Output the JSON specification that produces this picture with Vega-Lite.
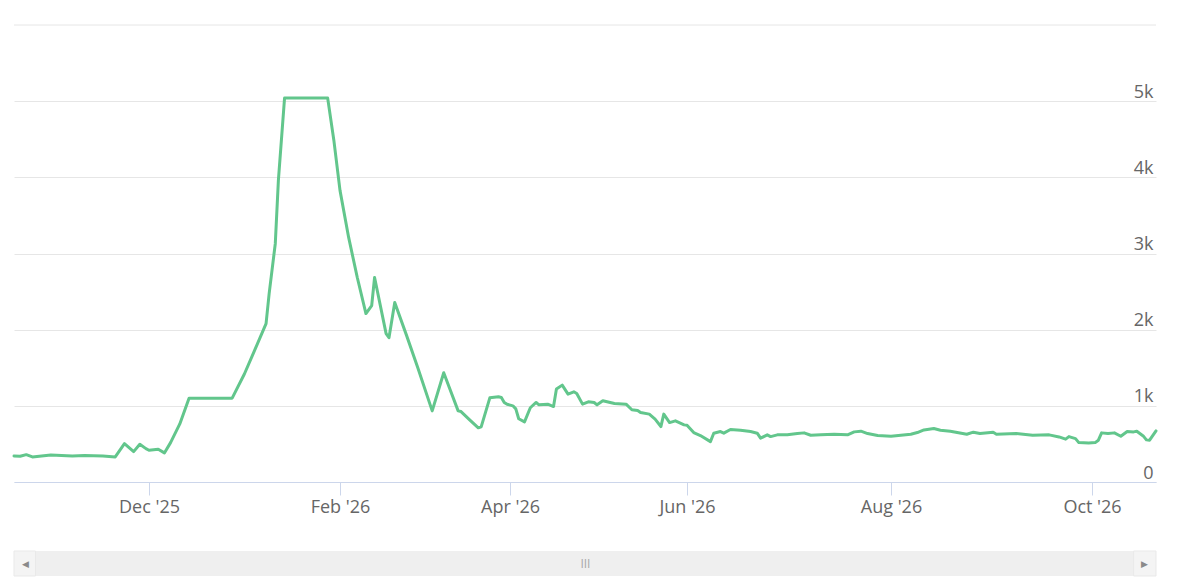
{
  "$schema": "https://vega.github.io/schema/vega-lite/v6.json",
  "background": "white",
  "padding": {"left": 12, "top": 24, "right": 37, "bottom": 12},
  "config": {"view": {"stroke": null}, "font": "Open Sans"},
  "spacing": 34,
  "datasets": {
    "series": [
      {"date": "2025-10-18", "value": 342},
      {"date": "2025-10-20", "value": 338},
      {"date": "2025-10-22", "value": 359},
      {"date": "2025-10-24", "value": 329},
      {"date": "2025-10-30", "value": 355},
      {"date": "2025-11-06", "value": 342},
      {"date": "2025-11-10", "value": 348},
      {"date": "2025-11-16", "value": 342},
      {"date": "2025-11-20", "value": 329},
      {"date": "2025-11-23", "value": 504},
      {"date": "2025-11-26", "value": 399},
      {"date": "2025-11-28", "value": 496},
      {"date": "2025-11-30", "value": 438},
      {"date": "2025-12-01", "value": 417},
      {"date": "2025-12-04", "value": 430},
      {"date": "2025-12-06", "value": 382},
      {"date": "2025-12-08", "value": 517},
      {"date": "2025-12-11", "value": 763},
      {"date": "2025-12-14", "value": 1101},
      {"date": "2025-12-28", "value": 1101},
      {"date": "2026-01-01", "value": 1421},
      {"date": "2026-01-04", "value": 1702},
      {"date": "2026-01-08", "value": 2079},
      {"date": "2026-01-09", "value": 2474},
      {"date": "2026-01-11", "value": 3132},
      {"date": "2026-01-12", "value": 3961},
      {"date": "2026-01-14", "value": 5040},
      {"date": "2026-01-28", "value": 5040},
      {"date": "2026-01-30", "value": 4488},
      {"date": "2026-02-01", "value": 3829},
      {"date": "2026-02-04", "value": 3211},
      {"date": "2026-02-07", "value": 2685},
      {"date": "2026-02-10", "value": 2211},
      {"date": "2026-02-12", "value": 2316},
      {"date": "2026-02-13", "value": 2685},
      {"date": "2026-02-17", "value": 1948},
      {"date": "2026-02-18", "value": 1895},
      {"date": "2026-02-20", "value": 2356},
      {"date": "2026-02-24", "value": 1935},
      {"date": "2026-02-28", "value": 1500},
      {"date": "2026-03-05", "value": 934},
      {"date": "2026-03-09", "value": 1434},
      {"date": "2026-03-14", "value": 934},
      {"date": "2026-03-15", "value": 925},
      {"date": "2026-03-18", "value": 816},
      {"date": "2026-03-21", "value": 711},
      {"date": "2026-03-22", "value": 724},
      {"date": "2026-03-25", "value": 1105},
      {"date": "2026-03-28", "value": 1119},
      {"date": "2026-03-29", "value": 1110},
      {"date": "2026-03-30", "value": 1045},
      {"date": "2026-03-31", "value": 1020},
      {"date": "2026-04-02", "value": 1000},
      {"date": "2026-04-03", "value": 960},
      {"date": "2026-04-04", "value": 830},
      {"date": "2026-04-06", "value": 790},
      {"date": "2026-04-08", "value": 975},
      {"date": "2026-04-10", "value": 1044},
      {"date": "2026-04-11", "value": 1013},
      {"date": "2026-04-14", "value": 1022},
      {"date": "2026-04-16", "value": 991},
      {"date": "2026-04-17", "value": 1220},
      {"date": "2026-04-19", "value": 1272},
      {"date": "2026-04-21", "value": 1154},
      {"date": "2026-04-23", "value": 1184},
      {"date": "2026-04-24", "value": 1162},
      {"date": "2026-04-26", "value": 1022},
      {"date": "2026-04-28", "value": 1053},
      {"date": "2026-04-30", "value": 1044},
      {"date": "2026-05-01", "value": 1013},
      {"date": "2026-05-03", "value": 1066},
      {"date": "2026-05-07", "value": 1031},
      {"date": "2026-05-11", "value": 1022},
      {"date": "2026-05-13", "value": 948},
      {"date": "2026-05-15", "value": 939},
      {"date": "2026-05-16", "value": 912},
      {"date": "2026-05-19", "value": 891},
      {"date": "2026-05-21", "value": 825},
      {"date": "2026-05-23", "value": 728},
      {"date": "2026-05-24", "value": 891},
      {"date": "2026-05-26", "value": 780},
      {"date": "2026-05-28", "value": 803},
      {"date": "2026-05-31", "value": 750},
      {"date": "2026-06-01", "value": 745},
      {"date": "2026-06-03", "value": 649},
      {"date": "2026-06-05", "value": 610},
      {"date": "2026-06-08", "value": 530},
      {"date": "2026-06-09", "value": 640},
      {"date": "2026-06-11", "value": 662},
      {"date": "2026-06-12", "value": 641},
      {"date": "2026-06-14", "value": 689},
      {"date": "2026-06-17", "value": 680},
      {"date": "2026-06-20", "value": 662},
      {"date": "2026-06-22", "value": 641},
      {"date": "2026-06-23", "value": 575},
      {"date": "2026-06-25", "value": 619},
      {"date": "2026-06-26", "value": 596},
      {"date": "2026-06-28", "value": 619},
      {"date": "2026-07-01", "value": 619},
      {"date": "2026-07-04", "value": 636},
      {"date": "2026-07-06", "value": 645},
      {"date": "2026-07-08", "value": 614},
      {"date": "2026-07-11", "value": 619},
      {"date": "2026-07-15", "value": 627},
      {"date": "2026-07-19", "value": 619},
      {"date": "2026-07-21", "value": 658},
      {"date": "2026-07-23", "value": 667},
      {"date": "2026-07-25", "value": 636},
      {"date": "2026-07-28", "value": 610},
      {"date": "2026-08-01", "value": 601},
      {"date": "2026-08-04", "value": 614},
      {"date": "2026-08-07", "value": 627},
      {"date": "2026-08-09", "value": 649},
      {"date": "2026-08-11", "value": 684},
      {"date": "2026-08-14", "value": 702},
      {"date": "2026-08-16", "value": 680},
      {"date": "2026-08-19", "value": 667},
      {"date": "2026-08-24", "value": 627},
      {"date": "2026-08-26", "value": 654},
      {"date": "2026-08-28", "value": 636},
      {"date": "2026-09-01", "value": 654},
      {"date": "2026-09-02", "value": 627},
      {"date": "2026-09-08", "value": 636},
      {"date": "2026-09-13", "value": 614},
      {"date": "2026-09-18", "value": 619},
      {"date": "2026-09-21", "value": 592},
      {"date": "2026-09-23", "value": 562},
      {"date": "2026-09-24", "value": 596},
      {"date": "2026-09-26", "value": 570},
      {"date": "2026-09-27", "value": 517},
      {"date": "2026-09-30", "value": 513},
      {"date": "2026-10-02", "value": 517},
      {"date": "2026-10-03", "value": 549},
      {"date": "2026-10-04", "value": 645},
      {"date": "2026-10-06", "value": 636},
      {"date": "2026-10-08", "value": 645},
      {"date": "2026-10-10", "value": 601},
      {"date": "2026-10-12", "value": 662},
      {"date": "2026-10-14", "value": 658},
      {"date": "2026-10-15", "value": 667},
      {"date": "2026-10-17", "value": 605},
      {"date": "2026-10-18", "value": 553},
      {"date": "2026-10-19", "value": 549},
      {"date": "2026-10-21", "value": 671}
    ],
    "scrollParts": [
      {"part": "track", "start": "2025-10-18", "end": "2026-10-21"},
      {"part": "button", "start": "2025-10-18", "end": "2025-10-25"},
      {"part": "button", "start": "2026-10-14", "end": "2026-10-21"}
    ],
    "scrollGlyphs": [
      {"glyph": "◀", "at": "2025-10-21T18:00:00Z", "kind": "arrow"},
      {"glyph": "▶", "at": "2026-10-17T12:00:00Z", "kind": "arrow"},
      {"glyph": "III", "at": "2026-04-27", "kind": "grip"}
    ]
  },
  "vconcat": [
    {
      "width": 1142,
      "height": 457,
      "layer": [
        {
          "data": {"values": [{"top": 6000}]},
          "mark": {"type": "rule", "color": "#e6e6e6", "strokeWidth": 1},
          "encoding": {
            "y": {"field": "top", "type": "quantitative", "scale": {"domain": [0, 6000], "nice": false}}
          }
        },
        {
          "data": {"name": "series", "format": {"parse": {"date": "date"}}},
          "mark": {"type": "line", "color": "#62c68c", "strokeWidth": 3, "strokeJoin": "round", "strokeCap": "round"},
          "encoding": {
            "x": {
              "field": "date",
              "type": "quantitative",
              "scale": {
                "type": "linear", "zero": false, "nice": false,
                "domain": [1760745600000, 1764547200000, 1769904000000, 1775001600000, 1780272000000, 1785542400000, 1790812800000, 1792540800000],
                "range": [0, 135, 326, 496, 673, 877, 1078, 1142]
              },
              "axis": {
                "values": [1764547200000, 1769904000000, 1775001600000, 1780272000000, 1785542400000, 1790812800000],
                "labelExpr": "utcFormat(datum.value, \"%b '%y\")",
                "title": null,
                "grid": false,
                "domainColor": "#ccd6eb",
                "domainWidth": 1,
                "tickColor": "#ccd6eb",
                "tickSize": 13,
                "tickWidth": 1,
                "labelColor": "#666666",
                "labelFontSize": 18,
                "labelPadding": 3,
                "labelFlush": false,
                "labelOverlap": false
              }
            },
            "y": {
              "field": "value",
              "type": "quantitative",
              "scale": {"domain": [0, 6000], "nice": false},
              "axis": {
                "orient": "right",
                "values": [0, 1000, 2000, 3000, 4000, 5000],
                "labelExpr": "datum.value == 0 ? '0' : (datum.value / 1000) + 'k'",
                "title": null,
                "grid": true,
                "gridColor": "#e6e6e6",
                "gridWidth": 1,
                "domain": false,
                "ticks": false,
                "tickSize": 0,
                "labelAlign": "right",
                "labelBaseline": "alphabetic",
                "labelPadding": -3,
                "labelOffset": -4,
                "labelColor": "#666666",
                "labelFontSize": 18,
                "labelFlush": false,
                "labelOverlap": false
              }
            }
          }
        }
      ]
    },
    {
      "width": 1142,
      "height": 25,
      "layer": [
        {
          "data": {"name": "scrollParts", "format": {"parse": {"start": "date", "end": "date"}}},
          "transform": [{"filter": "datum.part == 'track'"}],
          "mark": {"type": "rect", "color": "#efefef"},
          "encoding": {
            "x": {
              "field": "start", "type": "quantitative",
              "scale": {
                "type": "linear", "zero": false, "nice": false,
                "domain": [1760745600000, 1764547200000, 1769904000000, 1775001600000, 1780272000000, 1785542400000, 1790812800000, 1792540800000],
                "range": [0, 135, 326, 496, 673, 877, 1078, 1142]
              },
              "axis": null
            },
            "x2": {"field": "end"}
          }
        },
        {
          "data": {"name": "scrollParts", "format": {"parse": {"start": "date", "end": "date"}}},
          "transform": [{"filter": "datum.part == 'button'"}],
          "mark": {"type": "rect", "fill": "#f4f4f4", "stroke": "#e9e9e9", "strokeWidth": 1},
          "encoding": {
            "x": {"field": "start", "type": "quantitative", "axis": null},
            "x2": {"field": "end"}
          }
        },
        {
          "data": {"name": "scrollGlyphs", "format": {"parse": {"at": "date"}}},
          "transform": [{"filter": "datum.kind == 'arrow'"}],
          "mark": {"type": "text", "fontSize": 9, "color": "#8a8a8a", "baseline": "middle", "align": "center"},
          "encoding": {
            "x": {"field": "at", "type": "quantitative", "axis": null},
            "text": {"field": "glyph"}
          }
        },
        {
          "data": {"name": "scrollGlyphs", "format": {"parse": {"at": "date"}}},
          "transform": [{"filter": "datum.kind == 'grip'"}],
          "mark": {"type": "text", "fontSize": 12, "color": "#a8a8a8", "baseline": "middle", "align": "center"},
          "encoding": {
            "x": {"field": "at", "type": "quantitative", "axis": null},
            "text": {"field": "glyph"}
          }
        }
      ]
    }
  ]
}
